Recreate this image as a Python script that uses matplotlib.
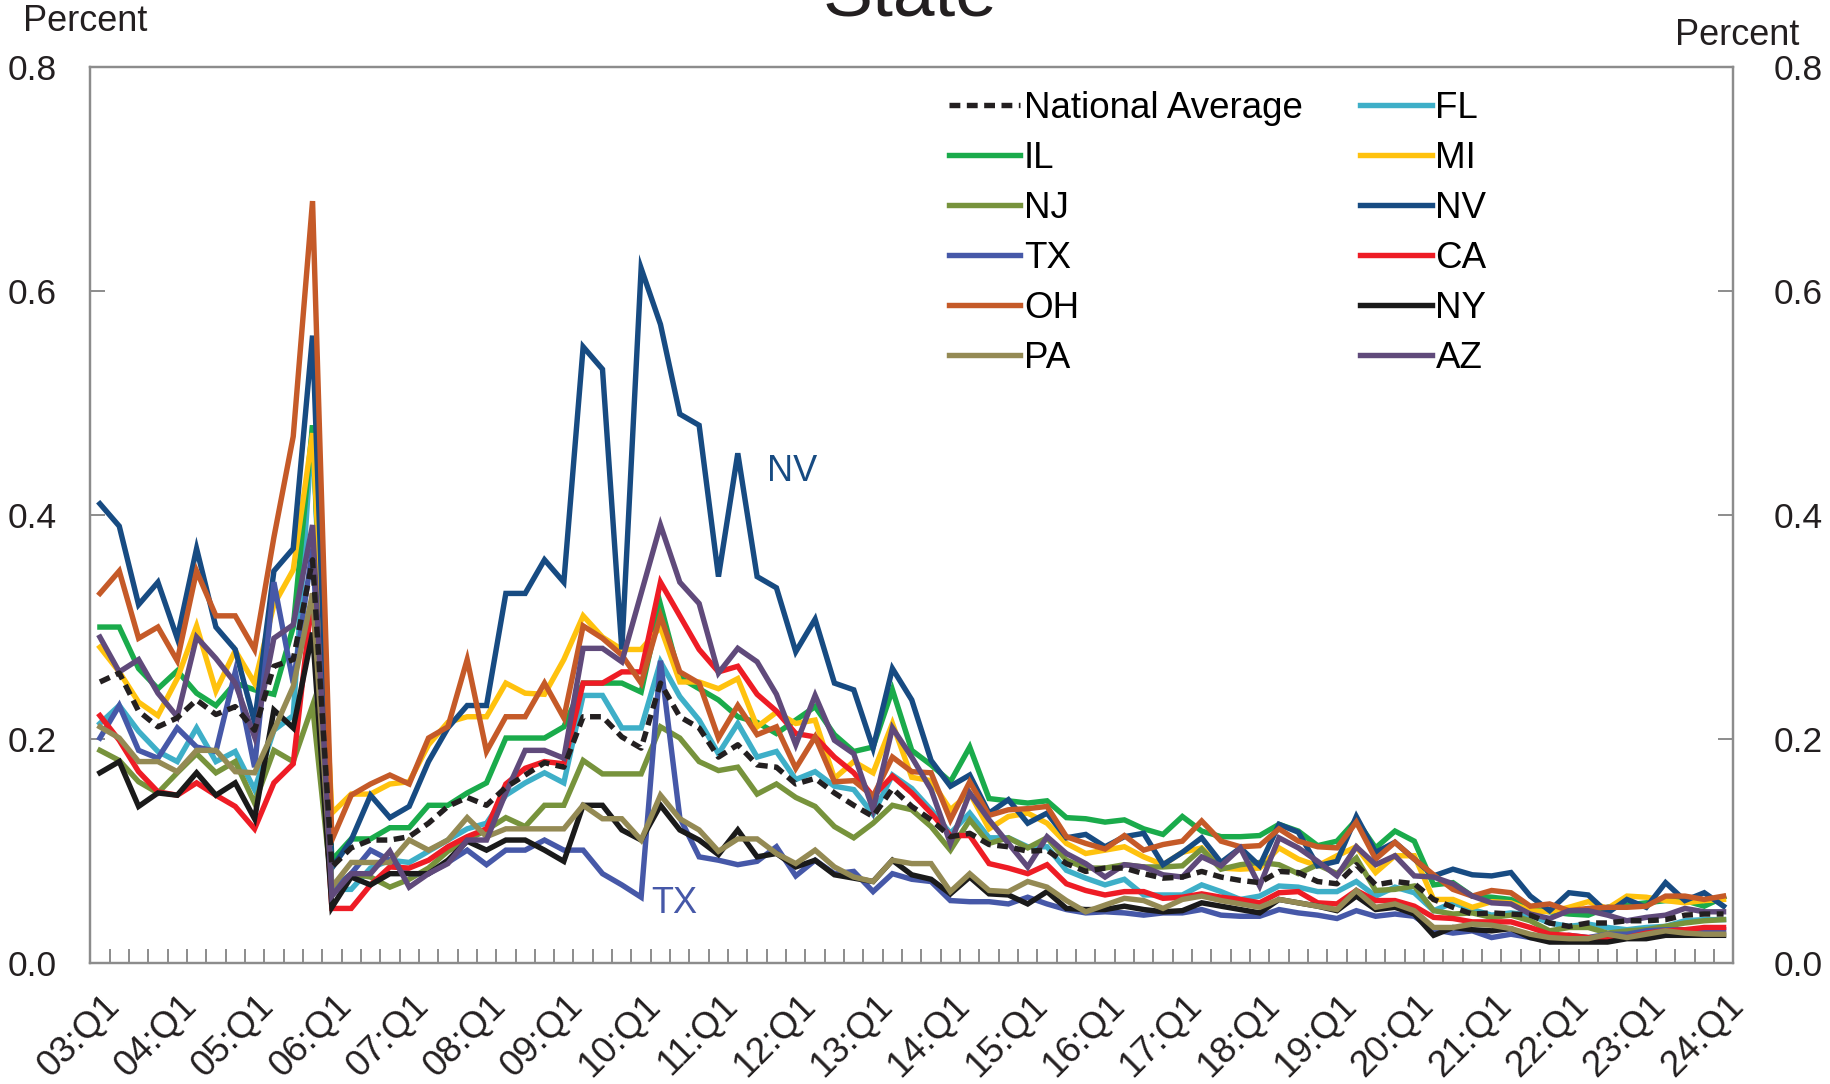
import matplotlib
matplotlib.use("Agg")
import matplotlib.pyplot as plt
import numpy as np

plt.rcParams['font.family'] = ['Liberation Sans', 'DejaVu Sans']

# quarterly series, 03:Q1 .. 24:Q1 (85 quarters)
year_labels = ["03:Q1", "04:Q1", "05:Q1", "06:Q1", "07:Q1", "08:Q1", "09:Q1",
               "10:Q1", "11:Q1", "12:Q1", "13:Q1", "14:Q1", "15:Q1", "16:Q1",
               "17:Q1", "18:Q1", "19:Q1", "20:Q1", "21:Q1", "22:Q1", "23:Q1",
               "24:Q1"]

national = [0.251, 0.259, 0.225, 0.211, 0.219, 0.235, 0.222, 0.229, 0.208, 0.265, 0.271, 0.36,
            0.086, 0.103, 0.110,
            0.110, 0.113, 0.125, 0.140, 0.148, 0.141, 0.157, 0.168, 0.179, 0.175, 0.220,
            0.220, 0.202, 0.192, 0.25, 0.220, 0.210, 0.184, 0.195, 0.177, 0.175,
            0.160, 0.165, 0.152, 0.141, 0.131, 0.156, 0.140, 0.128, 0.113, 0.116,
            0.106, 0.104, 0.100, 0.101, 0.089, 0.082, 0.085, 0.085, 0.080, 0.076,
            0.077, 0.082, 0.077, 0.074, 0.072, 0.082, 0.081, 0.073, 0.071, 0.088,
            0.070, 0.073, 0.071, 0.057, 0.050, 0.044, 0.045, 0.044, 0.043, 0.036,
            0.033, 0.036, 0.036, 0.038, 0.038, 0.039, 0.043, 0.044, 0.044]
fl = [0.214, 0.230, 0.207, 0.189, 0.180, 0.210, 0.180, 0.189, 0.155, 0.208, 0.221, 0.48,
      0.066, 0.066, 0.085,
      0.092, 0.09, 0.10, 0.11, 0.12, 0.125, 0.150, 0.161, 0.170, 0.161, 0.239,
      0.239, 0.210, 0.210, 0.269, 0.238, 0.217, 0.187, 0.214, 0.184, 0.189,
      0.164, 0.171, 0.158, 0.155, 0.133, 0.168, 0.156, 0.137, 0.116, 0.134,
      0.112, 0.112, 0.104, 0.104, 0.083, 0.076, 0.070, 0.075, 0.061, 0.061,
      0.061, 0.070, 0.064, 0.057, 0.060, 0.069, 0.068, 0.064, 0.064, 0.073,
      0.060, 0.068, 0.063, 0.047, 0.054, 0.048, 0.043, 0.045, 0.043, 0.036,
      0.033, 0.035, 0.032, 0.030, 0.032, 0.033, 0.038, 0.039, 0.039]
il = [0.30, 0.30, 0.263, 0.245, 0.261, 0.241, 0.230, 0.250, 0.244, 0.24, 0.30, 0.48,
      0.092, 0.111, 0.111,
      0.121, 0.121, 0.141, 0.141, 0.152, 0.161, 0.201, 0.201, 0.201, 0.211, 0.250,
      0.250, 0.250, 0.242, 0.32, 0.255, 0.245, 0.235, 0.22, 0.215, 0.205,
      0.217, 0.229, 0.204, 0.189, 0.193, 0.244, 0.190, 0.177, 0.162, 0.193,
      0.147, 0.145, 0.143, 0.145, 0.130, 0.129, 0.126, 0.128, 0.120, 0.115,
      0.131, 0.118, 0.113, 0.113, 0.114, 0.124, 0.118, 0.105, 0.109, 0.128,
      0.103, 0.118, 0.109, 0.070, 0.072, 0.060, 0.059, 0.057, 0.049, 0.046,
      0.044, 0.043, 0.050, 0.052, 0.054, 0.056, 0.056, 0.051, 0.059]
mi = [0.282, 0.260, 0.233, 0.221, 0.254, 0.301, 0.243, 0.279, 0.250, 0.320, 0.351, 0.473,
      0.134, 0.151, 0.151,
      0.16, 0.162, 0.195, 0.215, 0.220, 0.220, 0.250, 0.241, 0.240, 0.271, 0.31,
      0.291, 0.280, 0.280, 0.30, 0.251, 0.251, 0.245, 0.254, 0.211, 0.224,
      0.214, 0.217, 0.165, 0.180, 0.170, 0.214, 0.166, 0.163, 0.137, 0.152,
      0.120, 0.131, 0.134, 0.125, 0.107, 0.098, 0.101, 0.104, 0.095, 0.088,
      0.099, 0.103, 0.085, 0.084, 0.085, 0.103, 0.093, 0.087, 0.096, 0.104,
      0.081, 0.096, 0.096, 0.057, 0.057, 0.050, 0.055, 0.054, 0.047, 0.046,
      0.050, 0.055, 0.049, 0.060, 0.059, 0.056, 0.054, 0.056, 0.057]
nj = [0.190, 0.181, 0.162, 0.152, 0.170, 0.187, 0.170, 0.180, 0.143, 0.190, 0.180, 0.230,
      0.066, 0.080, 0.077,
      0.068, 0.075, 0.085, 0.10, 0.11, 0.119, 0.130, 0.122, 0.141, 0.141, 0.181,
      0.169, 0.169, 0.169, 0.211, 0.201, 0.180, 0.172, 0.175, 0.151, 0.160,
      0.148, 0.140, 0.122, 0.112, 0.125, 0.141, 0.137, 0.122, 0.101, 0.128,
      0.107, 0.112, 0.103, 0.112, 0.092, 0.085, 0.085, 0.088, 0.086, 0.086,
      0.087, 0.102, 0.084, 0.088, 0.090, 0.088, 0.080, 0.088, 0.080, 0.094,
      0.065, 0.066, 0.069, 0.047, 0.044, 0.045, 0.041, 0.043, 0.038, 0.029,
      0.032, 0.032, 0.027, 0.029, 0.030, 0.033, 0.036, 0.038, 0.039]
nv = [0.41, 0.39, 0.32, 0.34, 0.29, 0.37, 0.30, 0.28, 0.215, 0.35, 0.37, 0.56,
      0.085, 0.11, 0.15,
      0.13, 0.14, 0.18, 0.21, 0.23, 0.23, 0.33, 0.33, 0.36, 0.34, 0.55,
      0.53, 0.28, 0.62, 0.57, 0.49, 0.48, 0.345, 0.455, 0.345, 0.335,
      0.278, 0.307, 0.250, 0.244, 0.192, 0.263, 0.235, 0.181, 0.158, 0.168,
      0.134, 0.146, 0.125, 0.134, 0.112, 0.115, 0.104, 0.113, 0.116, 0.088,
      0.099, 0.112, 0.090, 0.103, 0.087, 0.124, 0.117, 0.087, 0.091, 0.131,
      0.099, 0.108, 0.093, 0.078, 0.084, 0.079, 0.078, 0.081, 0.060, 0.047,
      0.063, 0.061, 0.045, 0.057, 0.050, 0.072, 0.056, 0.063, 0.051]
tx = [0.201, 0.230, 0.190, 0.183, 0.210, 0.193, 0.189, 0.260, 0.175, 0.34, 0.25, 0.37,
      0.065, 0.080, 0.101,
      0.092, 0.080, 0.080, 0.090, 0.101, 0.088, 0.101, 0.101, 0.110, 0.101, 0.101,
      0.080, 0.070, 0.059, 0.270, 0.130, 0.095, 0.092, 0.088, 0.091, 0.104,
      0.078, 0.092, 0.080, 0.082, 0.064, 0.080, 0.075, 0.073, 0.056, 0.055,
      0.055, 0.053, 0.059, 0.053, 0.048, 0.045, 0.046, 0.045, 0.043, 0.045,
      0.045, 0.048, 0.043, 0.042, 0.042, 0.048, 0.045, 0.043, 0.040, 0.047,
      0.042, 0.044, 0.042, 0.030, 0.027, 0.029, 0.023, 0.026, 0.023, 0.022,
      0.025, 0.023, 0.026, 0.026, 0.029, 0.030, 0.030, 0.030, 0.030]
ca = [0.221, 0.199, 0.171, 0.153, 0.150, 0.161, 0.150, 0.140, 0.120, 0.161, 0.178, 0.33,
      0.049, 0.049, 0.070,
      0.086, 0.085, 0.092, 0.104, 0.113, 0.120, 0.160, 0.174, 0.180, 0.178, 0.250,
      0.250, 0.260, 0.260, 0.340, 0.31, 0.28, 0.26, 0.265, 0.24, 0.225,
      0.205, 0.202, 0.184, 0.170, 0.149, 0.167, 0.152, 0.134, 0.114, 0.114,
      0.089, 0.085, 0.080, 0.088, 0.071, 0.065, 0.061, 0.064, 0.064, 0.058,
      0.059, 0.062, 0.059, 0.057, 0.054, 0.063, 0.064, 0.054, 0.053, 0.065,
      0.056, 0.056, 0.051, 0.041, 0.040, 0.037, 0.037, 0.037, 0.032, 0.026,
      0.025, 0.023, 0.023, 0.023, 0.027, 0.029, 0.030, 0.032, 0.032]
oh = [0.33, 0.35, 0.29, 0.30, 0.27, 0.35, 0.31, 0.31, 0.28, 0.38, 0.47, 0.68,
      0.11, 0.15, 0.16,
      0.168, 0.160, 0.201, 0.211, 0.271, 0.189, 0.220, 0.220, 0.250, 0.219, 0.301,
      0.290, 0.275, 0.250, 0.31, 0.260, 0.250, 0.201, 0.230, 0.204, 0.211,
      0.174, 0.202, 0.162, 0.163, 0.149, 0.184, 0.171, 0.170, 0.128, 0.162,
      0.132, 0.137, 0.138, 0.140, 0.113, 0.107, 0.102, 0.114, 0.101, 0.106,
      0.109, 0.127, 0.109, 0.104, 0.105, 0.120, 0.109, 0.104, 0.103, 0.126,
      0.093, 0.108, 0.093, 0.079, 0.066, 0.060, 0.065, 0.063, 0.051, 0.053,
      0.047, 0.049, 0.050, 0.050, 0.051, 0.060, 0.060, 0.057, 0.060]
ny = [0.170, 0.180, 0.140, 0.152, 0.150, 0.170, 0.150, 0.161, 0.129, 0.226, 0.210, 0.295,
      0.050, 0.077, 0.070,
      0.080, 0.080, 0.080, 0.092, 0.109, 0.101, 0.110, 0.110, 0.101, 0.091, 0.141,
      0.141, 0.119, 0.110, 0.141, 0.119, 0.110, 0.097, 0.119, 0.095, 0.098,
      0.086, 0.092, 0.079, 0.076, 0.073, 0.092, 0.079, 0.075, 0.062, 0.077,
      0.062, 0.061, 0.053, 0.064, 0.049, 0.048, 0.048, 0.051, 0.048, 0.046,
      0.047, 0.054, 0.051, 0.048, 0.045, 0.057, 0.054, 0.051, 0.047, 0.060,
      0.048, 0.050, 0.044, 0.025, 0.032, 0.030, 0.029, 0.031, 0.023, 0.019,
      0.019, 0.019, 0.019, 0.022, 0.022, 0.025, 0.025, 0.025, 0.025]
pa = [0.211, 0.201, 0.180, 0.180, 0.171, 0.190, 0.190, 0.171, 0.170, 0.208, 0.247, 0.33,
      0.068, 0.090, 0.090,
      0.090, 0.110, 0.101, 0.110, 0.130, 0.113, 0.120, 0.120, 0.120, 0.120, 0.141,
      0.129, 0.129, 0.110, 0.150, 0.129, 0.119, 0.100, 0.111, 0.111, 0.098,
      0.089, 0.101, 0.086, 0.077, 0.073, 0.092, 0.089, 0.089, 0.064, 0.080,
      0.065, 0.064, 0.073, 0.068, 0.056, 0.046, 0.052, 0.058, 0.056, 0.049,
      0.057, 0.060, 0.056, 0.053, 0.050, 0.057, 0.054, 0.051, 0.048, 0.065,
      0.050, 0.053, 0.047, 0.032, 0.032, 0.035, 0.034, 0.031, 0.026, 0.023,
      0.022, 0.022, 0.026, 0.023, 0.026, 0.029, 0.027, 0.026, 0.026]
az = [0.291, 0.260, 0.271, 0.241, 0.220, 0.291, 0.272, 0.250, 0.202, 0.290, 0.302, 0.391,
      0.060, 0.080, 0.080,
      0.100, 0.068, 0.080, 0.089, 0.110, 0.110, 0.152, 0.190, 0.190, 0.183, 0.281,
      0.281, 0.269, 0.33, 0.391, 0.340, 0.321, 0.259, 0.281, 0.269, 0.24,
      0.195, 0.239, 0.199, 0.187, 0.137, 0.210, 0.184, 0.155, 0.107, 0.152,
      0.128, 0.107, 0.086, 0.113, 0.098, 0.089, 0.077, 0.088, 0.086, 0.079,
      0.077, 0.095, 0.087, 0.103, 0.069, 0.112, 0.103, 0.091, 0.078, 0.104,
      0.088, 0.096, 0.078, 0.077, 0.071, 0.060, 0.054, 0.053, 0.044, 0.040,
      0.047, 0.047, 0.043, 0.038, 0.041, 0.043, 0.049, 0.046, 0.046]

series = [
    ("National Average", national, "#231f20"),
    ("FL", fl, "#3eafc8"),
    ("IL", il, "#1aab4b"),
    ("MI", mi, "#ffc20e"),
    ("NJ", nj, "#77933c"),
    ("NV", nv, "#174b82"),
    ("TX", tx, "#4658a8"),
    ("CA", ca, "#ee1c25"),
    ("OH", oh, "#c55a28"),
    ("NY", ny, "#1a1a1a"),
    ("PA", pa, "#948a54"),
    ("AZ", az, "#604a7b"),
]

fig = plt.figure(figsize=(18.31, 10.84), dpi=100)
ax = fig.add_axes([0.0493, 0.1113, 0.8973, 0.8273])

x = np.arange(len(national))
handles = {}
for name, vals, color in series:
    if name == "National Average":
        ln, = ax.plot(x, vals, color=color, lw=3.9, linestyle=(0, (2.0, 1.2)),
                      label=name, zorder=3)
    else:
        ln, = ax.plot(x, vals, color=color, lw=3.9, label=name,
                      solid_joinstyle='miter', zorder=2)
    handles[name] = ln

ax.set_xlim(-0.5, len(national) - 0.5)
ax.set_ylim(0, 0.8)

grey = "#8c8c8c"
for s in ax.spines.values():
    s.set_color(grey)
    s.set_linewidth(1.6)

# ticks on category boundaries, labels once a year
ax.set_xticks(np.arange(-0.5, len(national), 1.0))
ax.set_xticklabels([])
ax.tick_params(axis='x', direction='in', length=10, width=1.4, color=grey)
for k, lab in enumerate(year_labels):
    ax.text(4 * k + 0.1, -0.022, lab, rotation=45, ha='right', va='top',
            rotation_mode='anchor', fontsize=26.5, color='#231f20')

yticks = [0.0, 0.2, 0.4, 0.6, 0.8]
ylabs = ["0.0", "0.2", "0.4", "0.6", "0.8"]
ax.set_yticks(yticks)
ax.set_yticklabels(ylabs)
ax.tick_params(axis='y', direction='in', length=11, width=1.4, color=grey,
               labelsize=25.5, labelcolor='#231f20', pad=24)

# right-hand scale
ax2 = ax.twinx()
ax2.set_ylim(0, 0.8)
ax2.set_yticks(yticks)
ax2.set_yticklabels(ylabs)
ax2.tick_params(axis='y', direction='in', length=11, width=1.4, color=grey,
                labelsize=25.5, labelcolor='#231f20', pad=29)
for s in ax2.spines.values():
    s.set_color(grey)
    s.set_linewidth(1.6)

fig.text(0.0126, 0.980, "Percent", fontsize=26, ha='left', va='center', color='#231f20')
fig.text(0.983, 0.967, "Percent", fontsize=26, ha='right', va='center', color='#231f20')
fig.text(0.497, 0.986, "State", fontsize=54, ha='center', va='baseline', color='#231f20')

ax.text(34.5, 0.439, "NV", color="#174b82", fontsize=26, ha='left', va='center')
ax.text(28.5, 0.053, "TX", color="#4658a8", fontsize=26, ha='left', va='center')

order = ["National Average", "IL", "NJ", "TX", "OH", "PA",
         "FL", "MI", "NV", "CA", "NY", "AZ"]
leg = ax2.legend([handles[n] for n in order], order, ncol=2, frameon=False,
                 loc='upper left', bbox_to_anchor=(0.5135, 0.9895),
                 fontsize=26.5, handlelength=1.95, handletextpad=0.1,
                 columnspacing=1.55, labelspacing=0.41, borderaxespad=0)

fig.savefig("out.png", dpi=100)
